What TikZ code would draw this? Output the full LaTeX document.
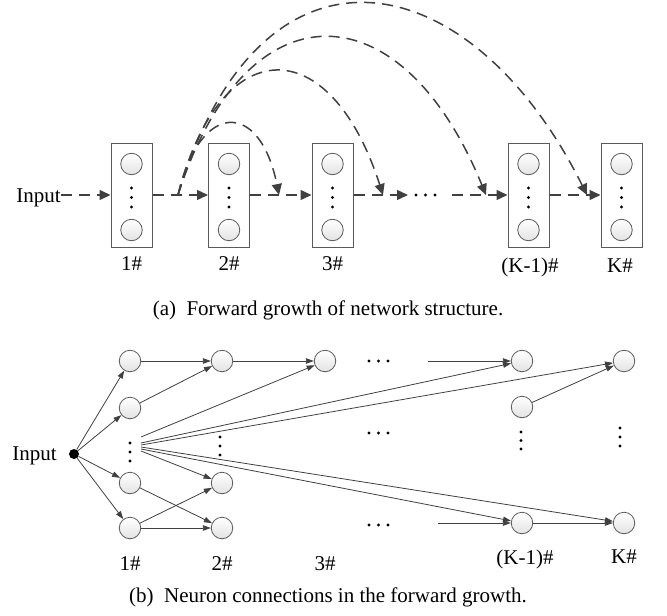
\documentclass[tikz,border=0pt]{standalone}
\usepackage{fontspec}
\setmainfont{Liberation Serif}
\usetikzlibrary{arrows.meta}
\definecolor{lineg}{HTML}{404040}
\definecolor{boxgray}{HTML}{5A5A5A}
\begin{document}
\begin{tikzpicture}[x=1pt,y=-1pt,
  font=\fontsize{21}{25}\selectfont,
  lay/.style={draw=boxgray, line width=1pt, fill=white, minimum width=41pt, minimum height=104pt, inner sep=0pt},
  neu/.style={circle, draw=boxgray, line width=0.8pt, top color=white, bottom color=gray!22, minimum size=21.5pt, inner sep=0pt},
  dline/.style={draw=lineg, line width=1.5pt, dash pattern=on 11pt off 7pt, -{Triangle[length=11pt,width=10pt]}},
  sline/.style={draw=lineg, line width=0.8pt, -{Triangle[length=8pt,width=5.5pt]}},
  lbl/.style={inner sep=0pt}
]
\useasboundingbox (0,0) rectangle (667,616);

% ---------- (a) ----------
\foreach \n/\x in {b1/131.5, b2/229, b3/332.5, bk1/528.5, bk/621.5}{
  \node[lay] (\n) at (\x,195) {};
  \node[neu] (\n t) at (\x,164) {};
  \node[neu] (\n b) at (\x,230) {};
  \foreach \yy in {188,197.5,207} \fill (\x,\yy) circle (1.6pt);
}
\node[lbl, anchor=base east] (in1) at (61,202) {Input};
\coordinate (a0) at (61,195);
\draw[dline] (a0) -- (b1.west);
\draw[dline] (b1.east) -- (b2.west);
\draw[dline] (b2.east) -- (b3.west);
\coordinate (e3) at (408,195);
\draw[dline] (b3.east) -- (e3);
\foreach \xx in {416,425.5,435} \fill (\xx,195) circle (1.6pt);
\coordinate (s4) at (452,195);
\draw[dline] (s4) -- (bk1.west);
\draw[dline] (bk1.east) -- (bk.west);

\coordinate (fork) at (178,195);
\coordinate (t1) at (279,195);
\coordinate (t2) at (383,195);
\coordinate (t3) at (486,195);
\coordinate (t4) at (587,195);
\draw[dline] (fork) .. controls (200,100) and (260,100) .. (t1);
\draw[dline] (fork) .. controls (220,30) and (330,30) .. (t2);
\draw[dline] (fork) .. controls (245,-15) and (400,-15) .. (t3);
\draw[dline] (fork) .. controls (260,-80) and (470,-40) .. (t4);

\node[lbl, anchor=base] (l1) at (131.5,270) {1\#};
\node[lbl, anchor=base] (l2) at (229,270) {2\#};
\node[lbl, anchor=base] (l3) at (332.5,270) {3\#};
\node[lbl, anchor=base] (l4) at (530,272) {(K-1)\#};
\node[lbl, anchor=base] (l5) at (620,272) {K\#};

\node[lbl, anchor=base] (capa) at (328,315) {(a)\ \ Forward growth of network structure.};

% ---------- (b) ----------
\node[lbl, anchor=base east] (intext) at (57,460) {Input};
\node[circle, fill=black, minimum size=10pt, inner sep=0pt] (inp) at (74,454) {};

\node[neu] (a1) at (130,361) {};
\node[neu] (a2) at (130,408) {};
\node[neu] (a3) at (130,483) {};
\node[neu] (a4) at (130,528) {};
\node[neu] (c1) at (222,361) {};
\node[neu] (c3) at (222,483) {};
\node[neu] (c4) at (222,528) {};
\node[neu] (d1) at (325,361) {};
\node[neu] (k1) at (522,361) {};
\node[neu] (k2) at (522,407) {};
\node[neu] (k4) at (522,523) {};
\node[neu] (m1) at (624,361) {};
\node[neu] (m4) at (624,523) {};

\foreach \yy in {443,452,461} \fill (130,\yy) circle (1.6pt);
\foreach \yy in {437,446,455} \fill (220,\yy) circle (1.6pt);
\foreach \yy in {432,440.5,449} \fill (521,\yy) circle (1.6pt);
\foreach \yy in {428,437,446} \fill (620,\yy) circle (1.6pt);
\foreach \yy in {361,433,525} \foreach \xx in {369,378.5,388} \fill (\xx,\yy) circle (1.6pt);

\foreach \t in {a1,a2,a3,a4} \draw[sline] (inp) -- (\t);
\draw[sline] (a1) -- (c1);
\draw[sline] (a2) -- (c1);
\draw[sline] (c1) -- (d1);
\draw[sline] (a3) -- (c4);
\draw[sline] (a4) -- (c3);
\draw[sline] (a4) -- (c4);

\coordinate (f0) at (141,437);
\coordinate (f1) at (141,443);
\coordinate (f2) at (141,445);
\coordinate (f3) at (141,447);
\coordinate (f4) at (141,449);
\coordinate (f5) at (141,451);
\draw[sline] (f0) -- (d1);
\draw[sline] (f1) -- (k1);
\draw[sline] (f2) -- (m1);
\draw[sline] (f3) -- (m4);
\draw[sline] (f4) -- (k4);
\draw[sline] (f5) -- (c3);

\coordinate (g1) at (428,361);
\draw[sline] (g1) -- (k1);
\coordinate (g2) at (438,523);
\draw[sline] (g2) -- (k4);
\draw[sline] (k2) -- (m1);
\draw[sline] (k4) -- (m4);

\node[lbl, anchor=base] (n1) at (130,570) {1\#};
\node[lbl, anchor=base] (n2) at (222,570) {2\#};
\node[lbl, anchor=base] (n3) at (325,570) {3\#};
\node[lbl, anchor=base] (n4) at (525,564) {(K-1)\#};
\node[lbl, anchor=base] (n5) at (624,563) {K\#};

\node[lbl, anchor=base] (capb) at (328,602) {(b)\ \ Neuron connections in the forward growth.};
\end{tikzpicture}
\end{document}
